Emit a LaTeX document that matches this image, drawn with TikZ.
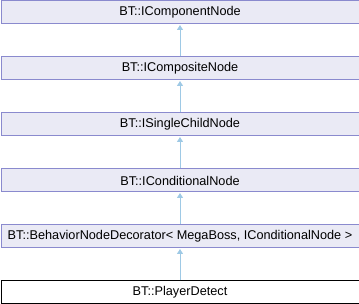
\documentclass[tikz,border=0pt]{standalone}
\usepackage{fontspec}
\setmainfont{Liberation Sans}
\usetikzlibrary{arrows.meta}
\definecolor{classfill}{RGB}{234,234,245}
\definecolor{classline}{RGB}{138,138,206}
\definecolor{inherit}{RGB}{158,201,229}
\tikzset{
  x=1pt, y=-1pt,
  classbox/.style={draw=classline, fill=classfill, line width=1pt,
    minimum width=358pt, minimum height=23pt, inner sep=0pt,
    font=\fontsize{12.7}{15}\selectfont, anchor=north west},
  leafbox/.style={classbox, draw=black, fill=white},
  inheritarrow/.style={draw=inherit, line width=1pt,
    -{Triangle[width=6pt,length=5pt]}, shorten >=0.5pt}
}
\begin{document}
\begin{tikzpicture}
\useasboundingbox (0,0) rectangle (359,304);
\node[classbox] (comp) at (0.5,0.5) {BT::IComponentNode};
\node[classbox] (composite) at (0.5,56.5) {BT::ICompositeNode};
\node[classbox] (single) at (0.5,112.5) {BT::ISingleChildNode};
\node[classbox] (cond) at (0.5,168.5) {BT::IConditionalNode};
\node[classbox] (deco) at (0.5,224.5) {BT::BehaviorNodeDecorator< MegaBoss, IConditionalNode >};
\node[leafbox] (player) at (0.5,280.5) {BT::PlayerDetect};
\draw[inheritarrow] (composite.north) -- (comp.south);
\draw[inheritarrow] (single.north) -- (composite.south);
\draw[inheritarrow] (cond.north) -- (single.south);
\draw[inheritarrow] (deco.north) -- (cond.south);
\draw[inheritarrow] (player.north) -- (deco.south);
\end{tikzpicture}
\end{document}
